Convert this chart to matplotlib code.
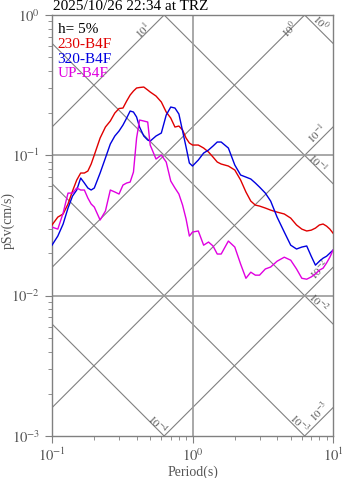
import numpy as np
import matplotlib
matplotlib.use("Agg")
import matplotlib.pyplot as plt

plt.rcParams['font.family'] = ['Liberation Serif', 'DejaVu Serif']
plt.rcParams['mathtext.fontset'] = 'stix'

# response spectrum, h = 5%
period = [0.10, 0.11, 0.12, 0.13, 0.14, 0.15, 0.16, 0.17, 0.18, 0.19, 0.20,
          0.22, 0.24, 0.26, 0.28, 0.30, 0.32, 0.34, 0.36, 0.38, 0.40, 0.42,
          0.45, 0.48, 0.50,
          0.55, 0.60, 0.65, 0.70, 0.75, 0.80, 0.85, 0.90, 0.95,
          1.0, 1.1, 1.2, 1.3, 1.4, 1.5, 1.6,
          1.8, 2.0, 2.2, 2.4, 2.6, 2.8, 3.0,
          3.3, 3.6, 4.0, 4.5, 5.0, 5.5, 6.0, 6.5, 7.0, 7.5, 8.0, 8.5, 9.0, 9.5, 10.0]

sv_230 = [0.0319, 0.0363, 0.0382, 0.0450, 0.0557, 0.0667, 0.0748, 0.0748, 0.0773, 0.0867, 0.1005,
          0.1328, 0.1591, 0.1756, 0.2002, 0.2156, 0.2173, 0.2438, 0.2690, 0.2872, 0.3018, 0.3043,
          0.3067, 0.2920, 0.2826,
          0.2646, 0.2399, 0.2035, 0.1844, 0.1591, 0.1617, 0.1515, 0.1328, 0.1224,
          0.1184, 0.1184, 0.1127, 0.1056, 0.0972, 0.0896, 0.0867,
          0.0839, 0.0786, 0.0667, 0.0548, 0.0472, 0.0442, 0.0435,
          0.0421, 0.0407, 0.0394, 0.0382, 0.0357, 0.0319, 0.0298, 0.0289, 0.0293, 0.0303, 0.0319, 0.0324, 0.0313, 0.0298, 0.0279]

sv_320 = [0.0229, 0.0266, 0.0324, 0.0421, 0.0513, 0.0566, 0.0689, 0.0635, 0.0585, 0.0566, 0.0585,
          0.0748, 0.0957, 0.1204, 0.1373, 0.1490, 0.1644, 0.1844, 0.2069, 0.2035, 0.1875, 0.1591,
          0.1373, 0.1285, 0.1264,
          0.1373, 0.1442, 0.1937, 0.2209, 0.2173, 0.1970, 0.1490, 0.1146, 0.0881,
          0.0839, 0.0926, 0.1038, 0.1091, 0.1165, 0.1244, 0.1244,
          0.1127, 0.0853, 0.0724, 0.0700, 0.0678, 0.0635, 0.0594,
          0.0538, 0.0472, 0.0363, 0.0284, 0.0229, 0.0215, 0.0222, 0.0226, 0.0191, 0.0165, 0.0176, 0.0185, 0.0191, 0.0201, 0.0211]

sv_up = [0.0308, 0.0298, 0.0388, 0.0538, 0.0538, 0.0585, 0.0566, 0.0566, 0.0496, 0.0450, 0.0428,
         0.0346, 0.0401, 0.0566, 0.0548, 0.0530, 0.0614, 0.0635, 0.0645, 0.0760, 0.1328, 0.1785,
         0.1756, 0.1727, 0.1184,
         0.0941, 0.1005, 0.0896, 0.0656, 0.0585, 0.0530, 0.0442, 0.0352, 0.0266,
         0.0284, 0.0289, 0.0229, 0.0241, 0.0226, 0.0198, 0.0198,
         0.0245, 0.0222, 0.0168, 0.0133, 0.0147, 0.0140, 0.0140,
         0.0155, 0.0160, 0.0176, 0.0188, 0.0179, 0.0155, 0.0133, 0.0131, 0.0136, 0.0143, 0.0152, 0.0157, 0.0171, 0.0188, 0.0211]

names = ["230-B4F", "320-B4F", "UP-B4F"]
colors = ["#e00000", "#0000e0", "#e000e0"]

# tripartite guide lines: displacement (cm) and acceleration
sd_levels = [1e-4, 1e-3, 1e-2, 1e-1, 1e0]
sa_levels = [1e-3, 1e-2, 1e-1, 1e0, 1e1]

xticks = [0.1, 1, 10]
xticklabels = ["$10^{-1}$", "$10^{0}$", "$10^{1}$"]
yticks = [1e-3, 1e-2, 1e-1, 1]
yticklabels = ["$10^{-3}$", "$10^{-2}$", "$10^{-1}$", "$10^{0}$"]

gray = "#808080"
txtgray = "#555555"

fig = plt.figure(figsize=(3.47, 4.78), dpi=100)
ax = fig.add_axes([52/347, 1 - 436/478, 281/347, 421/478])
ax.set_xscale("log")
ax.set_yscale("log")
ax.set_xlim(0.1, 10)
ax.set_ylim(1e-3, 1)

tt = np.array([0.1, 10.0])
for sd in sd_levels:
    ax.plot(tt, 2*np.pi*sd/tt, color=gray, lw=0.8, zorder=1)
for sa in sa_levels:
    ax.plot(tt, sa*tt/(2*np.pi), color=gray, lw=0.8, zorder=1)

ax.axvline(1, color="#999999", lw=1.2, zorder=1)
ax.axhline(0.1, color="#999999", lw=1.2, zorder=1)
ax.axhline(0.01, color="#999999", lw=1.2, zorder=1)

# labels on the guide lines
gl = dict(fontsize=8, color=txtgray, ha="center", va="center")
ax.text(0.445, 0.782, "$10^{1}$", rotation=45, **gl)
ax.text(4.94, 0.782, "$10^{0}$", rotation=45, **gl)
ax.text(8.07, 0.877, "$10^{0}$", rotation=-45, **gl)
ax.text(7.69, 0.144, "$10^{-1}$", rotation=45, **gl)
ax.text(7.82, 0.0881, "$10^{-1}$", rotation=-45, **gl)
ax.text(8.07, 0.0152, "$10^{-2}$", rotation=45, **gl)
ax.text(7.82, 0.00886, "$10^{-2}$", rotation=-45, **gl)
ax.text(0.559, 0.001216, "$10^{-4}$", rotation=-45, **gl)
ax.text(5.73, 0.001236, "$10^{-3}$", rotation=-45, **gl)
ax.text(8.07, 0.00148, "$10^{-3}$", rotation=45, **gl)

for sv, c in zip([sv_230, sv_320, sv_up], colors):
    ax.plot(period, sv, color=c, lw=1.0, zorder=3)

ax.set_xticks(xticks)
ax.set_xticklabels(xticklabels)
ax.set_yticks(yticks)
ax.set_yticklabels(yticklabels)
ax.tick_params(which="major", direction="out", length=5, color=gray, labelcolor=txtgray, labelsize=10.5)
ax.tick_params(which="minor", direction="out", length=3, color=gray)
ax.tick_params(axis="x", pad=3)
for s in ax.spines.values():
    s.set_color(gray)
    s.set_linewidth(1.0)

ax.set_xlabel("Period(s)", fontsize=10, color=txtgray, labelpad=1)
ax.set_ylabel("pSv(cm/s)", fontsize=10, color=txtgray)
ax.yaxis.set_label_coords(-0.133, 0.513)

fig.text(53/347, 1 - 7/478, "2025/10/26 22:34 at TRZ", fontsize=11, ha="left", va="center")

ax.text(0.02, 0.965, "h= 5%", transform=ax.transAxes, fontsize=11, va="center")
for i, (n, c) in enumerate(zip(names, colors)):
    ax.text(0.02, 0.93 - 0.035*i, n, color=c, transform=ax.transAxes, fontsize=11, va="center")

fig.savefig("out.png", dpi=100)
